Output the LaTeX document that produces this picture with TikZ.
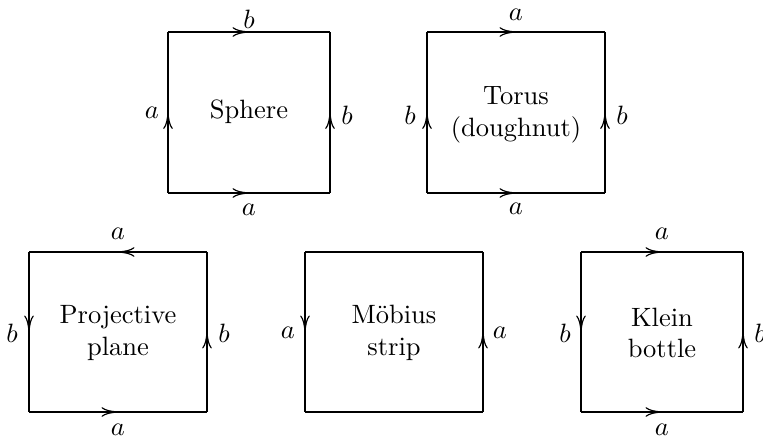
\documentclass[tikz,border=0pt]{standalone}
\usetikzlibrary{decorations.markings,arrows.meta}
\begin{document}
\begin{tikzpicture}[x=0.3774pt,y=-0.3774pt,
  edge/.style={line width=0.5pt},
  midarrow/.style={line width=0.5pt,postaction={decorate},
    decoration={markings,mark=at position 0.5 with {\arrow{To[length=6.2pt,width=3.6pt,line width=0.45pt]}}}},
  lbl/.style={inner sep=0pt},
  title/.style={align=center,inner sep=0pt}]
\useasboundingbox (0,0) rectangle (763,438);
% ---- Sphere
\coordinate (s1) at (168,193); \coordinate (s2) at (330,193);
\coordinate (s3) at (330,32);  \coordinate (s4) at (168,32);
\draw[midarrow] (s1) -- (s2);
\draw[midarrow] (s2) -- (s3);
\draw[midarrow] (s4) -- (s3);
\draw[midarrow] (s1) -- (s4);
\node[title] (st) at (249,112) {Sphere};
\node[lbl] (sl) at (152,113) {$a$};
\node[lbl] (sr) at (347,115) {$b$};
\node[lbl] (stp) at (249,19) {$b$};
\node[lbl] (sb) at (249,210) {$a$};
% ---- Torus
\coordinate (t1) at (427,193); \coordinate (t2) at (605,193);
\coordinate (t3) at (605,32);  \coordinate (t4) at (427,32);
\draw[midarrow] (t1) -- (t2);
\draw[midarrow] (t2) -- (t3);
\draw[midarrow] (t4) -- (t3);
\draw[midarrow] (t1) -- (t4);
\node[title] (tt) at (516,115) {Torus\\(doughnut)};
\node[lbl] (tl) at (410,115) {$b$};
\node[lbl] (tr) at (622,115) {$b$};
\node[lbl] (ttp) at (516,15) {$a$};
\node[lbl] (tb) at (516,209) {$a$};
% ---- Projective plane
\coordinate (p1) at (29,412); \coordinate (p2) at (207,412);
\coordinate (p3) at (207,252); \coordinate (p4) at (29,252);
\draw[midarrow] (p1) -- (p2);
\draw[midarrow] (p2) -- (p3);
\draw[midarrow] (p3) -- (p4);
\draw[midarrow] (p4) -- (p1);
\node[title] (pt) at (118,333) {Projective\\plane};
\node[lbl] (pl) at (12,333) {$b$};
\node[lbl] (pr) at (224,333) {$b$};
\node[lbl] (ptp) at (118,234) {$a$};
\node[lbl] (pb) at (118,430) {$a$};
% ---- Moebius strip
\coordinate (m1) at (305,412); \coordinate (m2) at (483,412);
\coordinate (m3) at (483,252); \coordinate (m4) at (305,252);
\draw[edge] (m1) -- (m2);
\draw[midarrow] (m2) -- (m3);
\draw[edge] (m3) -- (m4);
\draw[midarrow] (m4) -- (m1);
\node[title] (mt) at (394,333) {M\"obius\\strip};
\node[lbl] (ml) at (288,333) {$a$};
\node[lbl] (mr) at (500,333) {$a$};
% ---- Klein bottle
\coordinate (k1) at (581,412); \coordinate (k2) at (743,412);
\coordinate (k3) at (743,252); \coordinate (k4) at (581,252);
\draw[midarrow] (k1) -- (k2);
\draw[midarrow] (k2) -- (k3);
\draw[midarrow] (k4) -- (k3);
\draw[midarrow] (k4) -- (k1);
\node[title] (kt) at (662,333) {Klein\\bottle};
\node[lbl] (kl) at (565,333) {$b$};
\node[lbl] (kr) at (760,333) {$b$};
\node[lbl] (ktp) at (662,234) {$a$};
\node[lbl] (kb) at (662,430) {$a$};
\end{tikzpicture}
\end{document}
